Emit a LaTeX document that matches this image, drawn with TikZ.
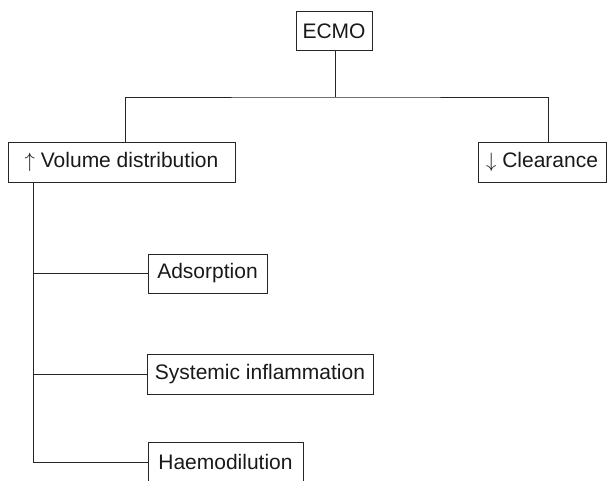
\documentclass[tikz,border=0pt]{standalone}
\usepackage{fontspec}
\setmainfont{Liberation Sans}
\begin{document}
\begin{tikzpicture}[x=1pt,y=-1pt,
  box/.style={draw=black!85, line width=1pt, minimum height=40pt, inner sep=0pt,
    font=\fontsize{21}{24}\selectfont, text=black!90},
  conn/.style={draw=black!85, line width=1pt}]
\useasboundingbox (0,0) rectangle (607,480);
\node[box, minimum width=76pt, minimum height=39pt] (ecmo) at (334,31) {ECMO};
\node[box, minimum width=227pt] (vol) at (121.5,162) {$\uparrow$ Volume distribution};
\node[box, minimum width=128pt] (clr) at (542,162) {$\downarrow$ Clearance};
\node[box, minimum width=119pt, minimum height=39pt] (ads) at (207.5,273.5) {Adsorption};
\node[box, minimum width=226pt] (sys) at (260,374) {Systemic inflammation};
\node[box, minimum width=155pt] (hae) at (225.5,462) {Haemodilution};
\coordinate (bar) at (335,97);
\coordinate (trunk) at (33.5,182);
\draw[conn] (ecmo.south -| bar) -- (bar);
\draw[conn] (vol.north -| 125,0) |- (bar) -| (clr.north -| 548,0);
\draw[conn] (vol.south -| trunk) |- (hae.west);
\draw[conn] (ads.west) -- (ads.west -| trunk);
\draw[conn] (sys.west) -- (sys.west -| trunk);
\end{tikzpicture}
\end{document}
